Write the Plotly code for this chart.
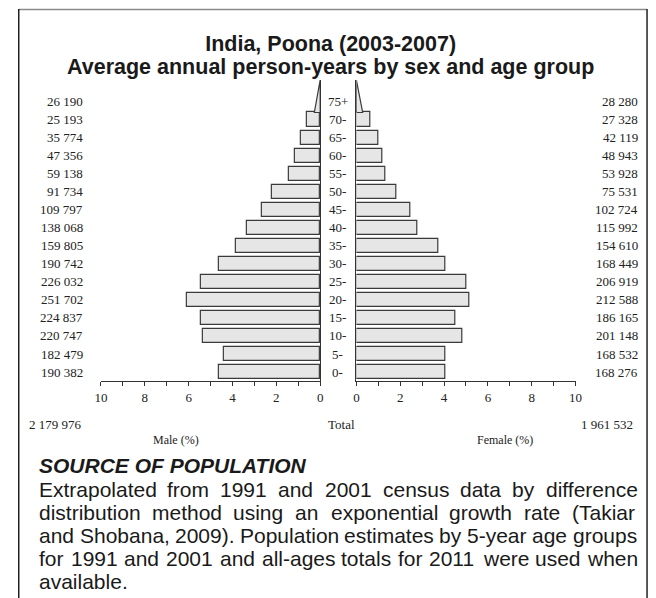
import plotly.graph_objects as go

# ---------------- data ----------------
age_groups = ["0-", "5-", "10-", "15-", "20-", "25-", "30-", "35-", "40-", "45-",
              "50-", "55-", "60-", "65-", "70-", "75+"]
male = [190382, 182479, 220747, 224837, 251702, 226032, 190742, 159805,
        138068, 109797, 91734, 59138, 47356, 35774, 25193, 26190]
female = [168276, 168532, 201148, 186165, 212588, 206919, 168449, 154610,
          115992, 102724, 75531, 53928, 48943, 42119, 27328, 28280]
axis_ticks = [0, 2, 4, 6, 8, 10]

title_lines = ["India, Poona (2003-2007)",
               "Average annual person-years by sex and age group"]
source_title = "SOURCE OF POPULATION"
source_lines = [
    "Extrapolated from 1991 and 2001 census data by difference",
    "distribution method using an exponential growth rate (Takiar",
    "and Shobana, 2009). Population estimates by 5-year age groups",
    "for 1991 and 2001 and all-ages totals for 2011 were used when",
    "available.",
]

# ---------------- helpers ----------------
W, H = 656, 598
def px(x):
    return x / W
def py(y):
    return 1 - y / H
def fmt(v):
    return f"{v:,}".replace(",", " ")

total = sum(male) + sum(female)
male_pct = [v / total * 100 for v in male]
female_pct = [v / total * 100 for v in female]
rows = list(range(len(age_groups)))

SERIF = "Liberation Serif, Times New Roman, serif"
SANS = "Liberation Sans, Arial, sans-serif"
BAR_FILL = "#e6e6e6"
BAR_LINE = "#3a3a3a"
BAR_W = 0.83
TAPER = 0.42      # open-ended group drawn as a tapering triangle
TRI_TOP = 16.22

fig = go.Figure()

# bars (all closed age groups)
fig.add_trace(go.Bar(x=male_pct[:-1], y=rows[:-1], orientation="h", width=BAR_W,
                     marker=dict(color=BAR_FILL, line=dict(color=BAR_LINE, width=1.2)),
                     xaxis="x", yaxis="y", hoverinfo="skip", showlegend=False))
fig.add_trace(go.Bar(x=female_pct[:-1], y=rows[:-1], orientation="h", width=BAR_W,
                     marker=dict(color=BAR_FILL, line=dict(color=BAR_LINE, width=1.2)),
                     xaxis="x2", yaxis="y2", hoverinfo="skip", showlegend=False))

# open-ended last group as a triangle
base_y = rows[-2] + BAR_W / 2
for pct, xa, ya in [(male_pct[-1], "x", "y"), (female_pct[-1], "x2", "y2")]:
    w = pct * TAPER
    fig.add_trace(go.Scatter(x=[0, w, 0, 0], y=[base_y, base_y, TRI_TOP, base_y],
                             mode="lines", fill="toself", fillcolor=BAR_FILL,
                             line=dict(color=BAR_LINE, width=1.2),
                             xaxis=xa, yaxis=ya, hoverinfo="skip", showlegend=False))

ann = []
lab_font = dict(family=SERIF, size=13, color="#222")
# age labels in the middle and counts on both sides
for r, g in zip(rows, age_groups):
    ann.append(dict(x=px(338), y=r, xref="paper", yref="y", text=g, showarrow=False,
                    xanchor="center", yanchor="middle", font=lab_font))
    ann.append(dict(x=px(80), y=r, xref="paper", yref="y", text=fmt(male[r]), showarrow=False,
                    xanchor="right", yanchor="middle", font=lab_font))
    ann.append(dict(x=px(647), y=r, xref="paper", yref="y", text=fmt(female[r]), showarrow=False,
                    xanchor="right", yanchor="middle", font=lab_font))

# totals and axis titles
ann.append(dict(x=px(20), y=py(424), xref="paper", yref="paper", text=fmt(sum(male)),
                showarrow=False, xanchor="left", yanchor="middle", font=lab_font))
ann.append(dict(x=px(342), y=py(424), xref="paper", yref="paper", text="Total",
                showarrow=False, xanchor="center", yanchor="middle", font=lab_font))
ann.append(dict(x=px(642), y=py(424), xref="paper", yref="paper", text=fmt(sum(female)),
                showarrow=False, xanchor="right", yanchor="middle", font=lab_font))
ann.append(dict(x=px(173), y=py(440), xref="paper", yref="paper", text="Male (%)",
                showarrow=False, xanchor="center", yanchor="middle",
                font=dict(family=SERIF, size=12, color="#222")))
ann.append(dict(x=px(509), y=py(440), xref="paper", yref="paper", text="Female (%)",
                showarrow=False, xanchor="center", yanchor="middle",
                font=dict(family=SERIF, size=12, color="#222")))

# title: one block, tight leading (line spacing follows the block font size)
TITLE_PX = 21.5
title_html = "<br>".join(f'<span style="font-size:{TITLE_PX}px"><b>{t}</b></span>'
                         for t in title_lines)
ann.append(dict(x=px(331), y=py(55), xref="paper", yref="paper", text=title_html,
                showarrow=False, xanchor="center", yanchor="middle",
                font=dict(family=SANS, size=18, color="#1a1a1a")))

# source block (justified text, Arial metrics)
AW = {" ": 278, "!": 278, "(": 333, ")": 333, ",": 278, "-": 333, ".": 278}
for d in "0123456789":
    AW[d] = 556
AW.update(dict(A=667, B=667, C=722, D=722, E=667, F=611, G=778, H=722, I=278, J=500,
               K=667, L=556, M=833, N=722, O=778, P=667, Q=778, R=722, S=667, T=611,
               U=722, V=667, W=944, X=667, Y=667, Z=611))
AW.update(dict(a=556, b=556, c=500, d=556, e=556, f=278, g=556, h=556, i=222, j=222,
               k=500, l=222, m=833, n=556, o=556, p=556, q=556, r=333, s=500, t=278,
               u=556, v=500, w=722, x=500, y=500, z=500))

def tw(s, size):
    return sum(AW.get(c, 556) for c in s) * size / 1000.0

BODY = 21
LEFT, RIGHT = 31, 641
ann.append(dict(x=px(LEFT), y=py(465), xref="paper", yref="paper",
                text="<b><i>" + source_title + "</i></b>", showarrow=False,
                xanchor="left", yanchor="middle",
                font=dict(family=SANS, size=BODY, color="#1a1a1a")))
line_y = [489, 512, 535, 558, 581]
for i, line in enumerate(source_lines):
    words = line.split(" ")
    justify = i < len(source_lines) - 1 and len(words) > 1
    widths = [tw(wd, BODY) for wd in words]
    gap = (RIGHT - LEFT - sum(widths)) / (len(words) - 1) if justify else tw(" ", BODY)
    x = LEFT
    for wd, wdw in zip(words, widths):
        ann.append(dict(x=px(x), y=py(line_y[i]), xref="paper", yref="paper", text=wd,
                        showarrow=False, xanchor="left", yanchor="middle",
                        font=dict(family=SANS, size=BODY, color="#1a1a1a")))
        x += wdw + gap

# frame
shapes = [
    dict(type="line", xref="paper", yref="paper", x0=px(12), x1=px(654), y0=py(9.5), y1=py(9.5),
         line=dict(color="#8a8a8a", width=1.5)),
    dict(type="line", xref="paper", yref="paper", x0=px(12), x1=px(12), y0=py(9), y1=py(600),
         line=dict(color="#222", width=1.5)),
    dict(type="line", xref="paper", yref="paper", x0=px(654), x1=px(654), y0=py(9), y1=py(600),
         line=dict(color="#222", width=1.5)),
]

ydom = [py(381), py(80)]
xaxis_common = dict(showline=True, linecolor="#333", linewidth=1, ticks="outside", ticklen=4,
                    tickcolor="#333", tickmode="array", tickvals=axis_ticks,
                    minor=dict(ticks="outside", ticklen=4, tickcolor="#333", tickmode="linear",
                               tick0=0, dtick=1),
                    tickfont=dict(family=SERIF, size=13, color="#222"),
                    showgrid=False, zeroline=False, fixedrange=True)
yaxis_common = dict(range=[-0.5, TRI_TOP], domain=ydom, showline=True, linecolor="#333",
                    linewidth=1, showticklabels=False, ticks="", showgrid=False,
                    zeroline=False, fixedrange=True)

fig.update_layout(
    width=W, height=H, margin=dict(l=0, r=0, t=0, b=0),
    paper_bgcolor="white", plot_bgcolor="white", showlegend=False,
    xaxis=dict(domain=[px(96), px(320)], range=[10, 0], anchor="y", **xaxis_common),
    xaxis2=dict(domain=[px(357), px(581)], range=[0, 10], anchor="y2", **xaxis_common),
    yaxis=dict(anchor="x", side="right", **yaxis_common),
    yaxis2=dict(anchor="x2", side="left", **yaxis_common),
    annotations=ann, shapes=shapes, bargap=0,
)

fig.write_html("out.html", config={"displayModeBar": False},
               post_script="document.body.style.margin='0';document.body.style.overflow='hidden';")
